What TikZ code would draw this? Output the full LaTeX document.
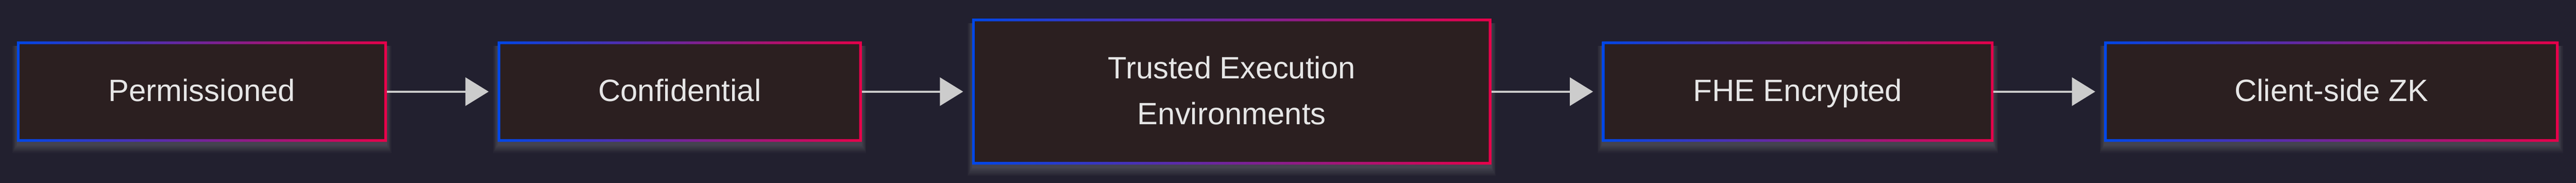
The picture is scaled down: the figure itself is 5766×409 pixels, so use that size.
\documentclass[tikz,border=0pt]{standalone}
\usepackage{fontspec}
\setmainfont{Liberation Sans}
\usetikzlibrary{arrows.meta,calc}
\definecolor{bgcol}{HTML}{22202F}
\definecolor{boxfill}{HTML}{2B1F20}
\definecolor{txtcol}{HTML}{E6E6E6}
\definecolor{arrcol}{HTML}{CCCCCC}
\definecolor{gblue}{HTML}{0047E8}
\definecolor{gred}{HTML}{E8004A}
\pgfdeclarelayer{bglayer}
\pgfdeclarelayer{shadowlayer}
\pgfsetlayers{bglayer,shadowlayer,main}
\tikzset{
  stage/.style={inner sep=0pt, fill=boxfill, text=txtcol, align=center,
    font=\fontsize{69}{103}\selectfont, minimum height=224pt},
  flow/.style={draw=arrcol, line width=4.5pt,
    -{Triangle[length=52pt,width=63pt]}, shorten >=20pt}
}
\newcommand{\up}[1]{\raisebox{3pt}[50pt][0pt]{#1}}
\newcommand{\gradborder}[1]{%
  \shade[left color=gblue, right color=gred, even odd rule]
    (#1.south west) rectangle (#1.north east)
    ($(#1.south west)+(6pt,6pt)$) rectangle ($(#1.north east)+(-6pt,-6pt)$);
  \begin{pgfonlayer}{shadowlayer}
    \foreach \k in {0,...,7}{
      \fill[white, opacity=0.022]
        ($(#1.south west)+(-\k*1.4pt,-8pt-\k*2.4pt)$) rectangle
        ($(#1.north east)+(\k*1.4pt,-10pt)$);
    }
  \end{pgfonlayer}
}
\begin{document}
\begin{tikzpicture}[x=1pt,y=1pt]
\begin{pgfonlayer}{bglayer}
\fill[bgcol] (0,0) rectangle (5766,409);
\end{pgfonlayer}
\useasboundingbox (0,0) rectangle (5766,409);
\node[stage, minimum width=828pt] (n1) at (452,204) {\up{Permissioned}};
\node[stage, minimum width=815pt] (n2) at (1521.5,204) {\up{Confidential}};
\node[stage, minimum width=1162pt, minimum height=326pt] (n3) at (2757,204) {\up{Trusted Execution}\\\up{Environments}};
\node[stage, minimum width=876pt] (n4) at (4024,204) {\up{FHE Encrypted}};
\node[stage, minimum width=1017pt] (n5) at (5218.5,204) {\up{Client-side ZK}};
\gradborder{n1}
\gradborder{n2}
\gradborder{n3}
\gradborder{n4}
\gradborder{n5}
\draw[flow] (n1.east) -- (n2.west);
\draw[flow] (n2.east) -- (n3.west);
\draw[flow] (n3.east) -- (n4.west);
\draw[flow] (n4.east) -- (n5.west);
\end{tikzpicture}
\end{document}
